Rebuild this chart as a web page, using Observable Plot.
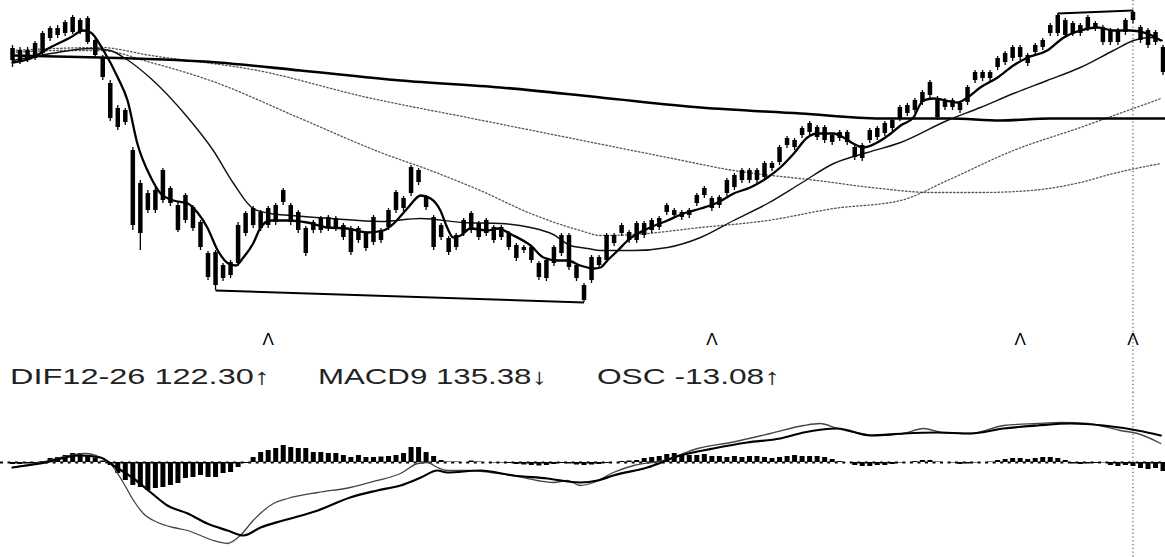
<!DOCTYPE html>
<html>
<head>
<meta charset="utf-8">
<script src="https://cdn.jsdelivr.net/npm/d3@7"></script>
<script src="https://cdn.jsdelivr.net/npm/@observablehq/plot@0.6"></script>
<style>
  html, body { margin: 0; padding: 0; background: #fff; }
  #chart { position: relative; width: 1165px; height: 557px; overflow: hidden; font-family: "Liberation Sans", Arial, sans-serif; }
  #chart > .panel { position: absolute; left: 0; }
</style>
</head>
<body>
<div id="chart"></div>
<script>
// ---- Price bars (index points) ----
const bodyHi = [6720,6700,6700,6770,6870,6920,6920,6980,7030,7000,7020,6800,6630,6370,6120,6100,5700,5370,5270,5300,5500,5320,5150,5250,5130,4980,4670,4680,4550,4580,4950,5070,5120,5080,5120,5150,5300,5150,5080,4920,4980,5020,5030,5020,4950,4920,4920,4870,5030,4900,5100,5280,5220,5530,5500,5230,5030,4950,4820,4850,5000,5070,4970,5000,4930,4930,4870,4750,4730,4730,4570,4600,4730,4850,4850,4550,4350,4630,4630,4850,4850,4950,4880,4970,4970,5000,5020,5150,5100,5080,5100,5250,5320,5220,5230,5400,5450,5500,5500,5500,5570,5570,5730,5820,5800,5920,5970,5930,5930,5850,5880,5880,5730,5750,5900,5920,5970,6000,6130,6150,6200,6280,6380,6220,6200,6200,6170,6330,6480,6480,6480,6620,6670,6730,6730,6650,6750,6800,6950,7050,7000,6970,6950,7030,6970,6930,6900,6900,7000,7080,6930,6900,6880,6730];
const bodyLo = [6600,6580,6600,6620,6670,6820,6850,6870,6880,6880,6780,6650,6430,6020,5930,5980,4950,4870,5100,5100,5200,5170,4900,5000,4920,4730,4430,4350,4420,4450,4570,4870,4950,4920,4950,4980,5180,4980,4900,4670,4900,4900,4920,4920,4830,4680,4800,4720,4780,4800,4930,5100,5120,5270,5380,5130,4730,4830,4680,4730,4870,4900,4830,4870,4800,4830,4730,4620,4700,4600,4430,4420,4570,4670,4530,4420,4200,4400,4550,4600,4770,4870,4800,4800,4850,4900,4930,5080,5050,5030,5050,5170,5250,5120,5150,5270,5330,5400,5400,5400,5430,5520,5580,5750,5730,5850,5880,5830,5800,5780,5820,5780,5630,5620,5800,5830,5870,5920,6020,6070,6100,6180,6250,6030,6130,6130,6100,6180,6400,6420,6420,6530,6580,6620,6630,6570,6680,6730,6870,6870,6850,6870,6870,6920,6920,6780,6780,6780,6880,7000,6800,6750,6780,6480];
const wickHi = [6750,6730,6730,6790,6890,6940,6950,7000,7050,7020,7040,6820,6650,6400,6150,6120,5730,5400,5300,5330,5520,5340,5180,5270,5150,5000,4690,4700,4570,4600,4980,5090,5140,5100,5140,5170,5320,5170,5100,4940,5000,5040,5050,5040,4970,4940,4940,4890,5050,4920,5120,5300,5240,5550,5520,5250,5050,4970,4840,4870,5020,5090,4990,5020,4950,4950,4890,4770,4750,4750,4590,4620,4750,4870,4870,4570,4370,4650,4650,4870,4870,4970,4900,4990,4990,5020,5040,5170,5120,5100,5120,5270,5340,5240,5250,5420,5470,5520,5520,5520,5590,5590,5750,5840,5820,5940,5990,5950,5950,5870,5900,5900,5750,5770,5920,5940,5990,6020,6150,6170,6220,6300,6400,6240,6220,6220,6190,6350,6500,6500,6500,6640,6690,6750,6750,6670,6770,6820,6970,7070,7020,6990,6970,7050,6990,6950,6920,6920,7020,7100,6950,6920,6900,6750];
const wickLo = [6530,6560,6580,6600,6640,6790,6820,6840,6860,6860,6760,6620,6400,5990,5900,5950,4900,4700,5070,5070,5170,5140,4880,4970,4890,4700,4400,4300,4390,4420,4540,4840,4920,4890,4920,4950,5150,4950,4870,4640,4870,4870,4890,4890,4800,4650,4770,4690,4750,4770,4900,5070,5090,5240,5350,5100,4700,4800,4650,4700,4840,4870,4800,4840,4770,4800,4700,4590,4670,4570,4400,4390,4540,4640,4500,4390,4180,4370,4520,4570,4740,4840,4770,4770,4820,4870,4900,5050,5020,5000,5020,5140,5220,5090,5120,5240,5300,5370,5370,5370,5400,5490,5550,5720,5700,5820,5850,5800,5770,5750,5790,5750,5600,5590,5770,5800,5840,5890,5990,6040,6070,6150,6220,6000,6100,6100,6070,6150,6370,6390,6390,6500,6550,6590,6600,6540,6650,6700,6840,6840,6820,6840,6840,6890,6890,6750,6750,6750,6850,6970,6770,6720,6750,6450];

// ---- Moving averages: [day, value] ----
const ma5 = [[0,6580],[2.4,6620],[5,6730],[7.7,6830],[9.4,6900],[10.4,6880],[12.1,6700],[14,6430],[15.3,6200],[16.6,5770],[18.4,5430],[19.7,5270],[21.4,5200],[23.3,5170],[24.6,5080],[25.9,4930],[27.3,4700],[28.7,4570],[29.7,4550],[30.7,4630],[32,4770],[33,4930],[34.3,5000],[36.6,5000],[39.2,4980],[41.9,4930],[44.5,4920],[47.2,4880],[49.3,4900],[50.7,4970],[52.5,5120],[54.3,5250],[55.6,5220],[56.9,5100],[57.8,4930],[58.6,4830],[59.6,4850],[60.9,4920],[63.2,4900],[64.5,4920],[66.6,4850],[68.9,4750],[70.6,4630],[72.5,4600],[73.8,4600],[75.5,4550],[77.3,4520],[78.2,4530],[79.1,4600],[80.5,4700],[81.8,4800],[84.8,4930],[87.1,5000],[89.2,5070],[91.5,5120],[93.8,5180],[95.9,5270],[98.1,5330],[100.4,5430],[102.1,5530],[103.9,5670],[105.7,5830],[107,5870],[109.2,5870],[110.5,5830],[111.8,5770],[113.2,5730],[115,5780],[116.8,5870],[118.1,5950],[119.8,6030],[121.1,6200],[122.5,6220],[125.7,6180],[127,6230],[128.7,6330],[131,6430],[133.1,6550],[135,6630],[137.6,6700],[139.8,6830],[142,6900],[144.3,6930],[146.4,6900],[148.7,6900],[150.9,6870],[152.7,6800]];
const ma20 = [[0,6600],[5.1,6670],[10.4,6720],[13,6700],[15,6620],[18.4,6420],[23.3,6030],[26.7,5700],[29.4,5370],[32,5120],[34.3,5070],[37,5050],[42.3,5020],[48.9,4990],[54.3,5020],[60,4980],[64.9,4970],[68.9,4930],[71.9,4860],[74.2,4750],[76.5,4720],[78.2,4700],[82.6,4700],[87.1,4730],[91.5,4830],[95.9,5000],[100.4,5170],[104.8,5370],[109.2,5570],[113.7,5680],[118.1,5780],[124.3,6000],[128.7,6130],[133.1,6270],[137.6,6400],[142,6530],[146.4,6700],[149.1,6800],[151.3,6830],[152.9,6800]];
const ma60 = [[0,6680],[6.4,6700],[11.7,6700],[18.4,6580],[26.3,6400],[38.3,6020],[49.3,5670],[55.6,5500],[62.2,5300],[68.9,5070],[75.5,4900],[78.2,4850],[82.6,4860],[91.5,4930],[100.4,5000],[109.2,5120],[118.1,5200],[124.3,5400],[133.1,5700],[142,5930],[152.7,6220]];
const ma120 = [[0,6700],[11.7,6730],[18.4,6650],[32.6,6500],[47.2,6230],[60.5,6030],[73.8,5830],[87.1,5630],[95.9,5500],[107,5400],[115.4,5320],[122.1,5280],[128.7,5280],[135.4,5300],[142,5380],[146.4,5470],[152.7,5570]];
const ma250 = [[0,6650],[11.7,6630],[27.3,6580],[38.3,6500],[51.6,6400],[64.9,6330],[78.2,6230],[91.5,6130],[104.8,6070],[115.4,6020],[124.7,6020],[131.4,6000],[138,6020],[144.7,6020],[153.3,6020]];

// bracket pairs: [fromDay, toDay, which extreme]
const brackets = [[27, 76, "low"], [139, 149, "high"]];
// signal days marked with Λ
const signalDays = [34, 93, 134, 149];
const cursorDay = 149;

// ---- MACD ----
const osc = [-8,-8,-6,-4,4,16,20,28,36,36,28,18,6,-12,-44,-72,-92,-100,-112,-104,-100,-92,-84,-64,-60,-52,-60,-60,-44,-40,-20,-4,20,40,48,56,68,60,56,56,40,40,36,36,28,20,28,20,20,22,24,28,36,60,60,40,24,8,2,2,0,6,2,0,-2,-2,-4,-8,-10,-12,-14,-12,-8,-4,-6,-10,-12,-10,-8,-4,0,4,6,8,16,20,24,32,36,28,28,28,32,24,24,20,24,20,24,24,20,16,20,24,28,24,24,24,20,12,4,0,-12,-16,-16,-12,-12,-8,-2,0,4,8,8,2,0,-2,-8,-6,-2,0,2,8,12,16,16,12,16,20,20,16,8,-6,-8,-6,-4,-2,-12,-16,-12,-16,-24,-28,-24,-36];
const dif = [[0,-20],[3.7,0],[7.7,28],[9.7,36],[11.7,20],[13,-4],[14.8,-84],[16.1,-152],[17.4,-204],[19.3,-240],[21.4,-260],[23.3,-272],[25,-292],[26.7,-312],[28.6,-324],[30.3,-292],[32,-232],[34.7,-164],[36.6,-144],[40.6,-120],[44.9,-100],[48.5,-72],[51.6,-44],[53.9,-4],[55.2,0],[56.5,-20],[57.8,-32],[60.5,-32],[63.6,-40],[66.6,-52],[69.8,-72],[71.9,-80],[73.8,-72],[75.5,-92],[77.3,-80],[79.9,-40],[82.6,-12],[86.6,8],[91.1,56],[95.5,80],[100.8,116],[105.2,148],[107.4,156],[109.7,136],[112.8,116],[115,108],[118.5,116],[121.1,136],[123.8,120],[127.4,116],[131.8,148],[136.3,156],[139.4,160],[143,156],[147.3,128],[149.6,116],[152.7,76]];
const macd = [[0,-20],[3.7,-4],[9,28],[11.7,20],[13.4,-12],[16.1,-64],[18.4,-120],[20.6,-172],[23.3,-204],[25.9,-244],[28.6,-272],[30.7,-292],[33,-260],[36,-232],[40.6,-192],[44.9,-140],[48.5,-112],[51.6,-92],[54.3,-60],[56.5,-32],[57.8,-40],[62.2,-32],[66.6,-52],[71.1,-64],[75.5,-80],[77.8,-72],[79.9,-52],[84.4,-20],[88.8,28],[93.2,56],[97.7,80],[102.1,96],[105.2,120],[109.7,136],[114.1,108],[118.5,116],[123,120],[127.4,116],[131.8,136],[136.3,148],[140.7,156],[145.1,148],[149.6,128],[152.7,108]];

const legendNames = ["DIF12-26", "MACD9", "OSC"];
const legendValues = [122.30, 135.38, -13.08];
const legendArrows = ["↑", "↓", "↑"];

// ---- build ----
const W = 1165;
const xDomain = [-12 / 7.52, (W - 12) / 7.52];
const bars = bodyHi.map((v, i) => ({day: i, bodyHi: v, bodyLo: bodyLo[i], wickHi: wickHi[i], wickLo: wickLo[i]}));
const bracketLinks = brackets.map(([a, b, k]) => ({
  x1: a, x2: b,
  y1: k === "low" ? wickLo[a] : wickHi[a],
  y2: k === "low" ? wickLo[b] : wickHi[b]
}));
const oscData = osc.map((v, i) => ({day: i, osc: v}));
const px = d => d[0], py = d => d[1];

const topPlot = Plot.plot({
  width: W, height: 392, margin: 0,
  x: {domain: xDomain, axis: null},
  y: {domain: [3280, 7200], axis: null},
  style: {background: "transparent", overflow: "visible"},
  marks: [
    Plot.ruleX([cursorDay], {stroke: "#333", strokeWidth: 1, strokeDasharray: "1.2,2.6"}),
    Plot.line(ma120, {x: px, y: py, stroke: "#555", strokeWidth: 1.3, strokeDasharray: "1.5,2.2", curve: "monotone-x"}),
    Plot.line(ma60, {x: px, y: py, stroke: "#555", strokeWidth: 1.3, strokeDasharray: "1.5,2.2", curve: "monotone-x"}),
    Plot.line(ma250, {x: px, y: py, stroke: "#000", strokeWidth: 2.6, curve: "monotone-x"}),
    Plot.line(ma20, {x: px, y: py, stroke: "#111", strokeWidth: 1.4, curve: "monotone-x"}),
    Plot.ruleX(bars, {x: "day", y1: "wickLo", y2: "wickHi", stroke: "#000", strokeWidth: 1.3}),
    Plot.ruleX(bars, {x: "day", y1: "bodyLo", y2: "bodyHi", stroke: "#000", strokeWidth: 4.5}),
    Plot.line(ma5, {x: px, y: py, stroke: "#000", strokeWidth: 2.3, curve: "monotone-x"}),
    Plot.link(bracketLinks, {x1: "x1", y1: "y1", x2: "x2", y2: "y2", stroke: "#000", strokeWidth: 2}),
    Plot.text(signalDays, {x: d => d, text: () => "Λ", frameAnchor: "bottom", dy: -48, fontSize: 17, fill: "#000", fontFamily: "Liberation Sans", fontWeight: "normal"})
  ]
});
topPlot.classList.add("panel");
topPlot.style.top = "0px";

const botPlot = Plot.plot({
  width: W, height: 165, margin: 0,
  x: {domain: xDomain, axis: null},
  y: {domain: [-380, 280], axis: null},
  style: {background: "transparent", overflow: "visible"},
  marks: [
    Plot.ruleX([cursorDay], {stroke: "#333", strokeWidth: 1, strokeDasharray: "1.2,2.6"}),
    Plot.ruleY([0], {stroke: "#000", strokeWidth: 2, strokeDasharray: "3,4.52"}),
    Plot.ruleX(oscData, {x: "day", y1: 0, y2: "osc", stroke: "#000", strokeWidth: 5}),
    Plot.line(dif, {x: px, y: py, stroke: "#444", strokeWidth: 1.3, curve: "monotone-x"}),
    Plot.line(macd, {x: px, y: py, stroke: "#000", strokeWidth: 2.2, curve: "monotone-x"})
  ]
});
botPlot.classList.add("panel");
botPlot.style.top = "392px";

const chart = document.getElementById("chart");
chart.appendChild(topPlot);
chart.appendChild(botPlot);

// legend row
const legendSlots = [{x: 10, w: 260}, {x: 318, w: 229}, {x: 597, w: 183}];
const legend = d3.create("svg")
  .attr("width", W).attr("height", 40)
  .style("position", "absolute").style("left", "0px").style("top", "355px");
legend.selectAll("text")
  .data(legendNames.map((n, i) => ({s: `${n} ${legendValues[i].toFixed(2)}${legendArrows[i]}`, ...legendSlots[i]})))
  .join("text")
  .attr("x", d => d.x).attr("y", 29)
  .attr("textLength", d => d.w).attr("lengthAdjust", "spacingAndGlyphs")
  .attr("font-family", "Liberation Sans, Arial, sans-serif")
  .attr("font-size", 22).attr("fill", "#222")
  .text(d => d.s);
chart.appendChild(legend.node());
</script>
</body>
</html>
